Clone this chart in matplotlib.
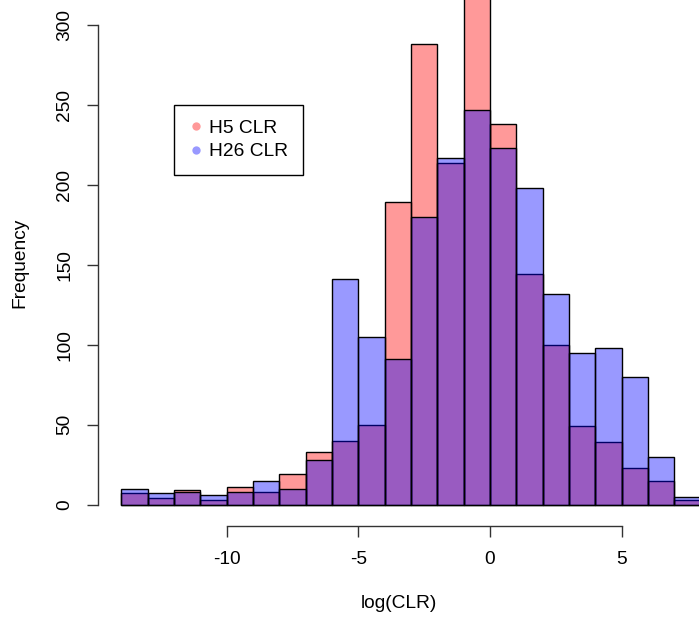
import matplotlib
matplotlib.use("Agg")
import matplotlib.pyplot as plt
import numpy as np
from matplotlib.lines import Line2D

plt.rcParams["font.family"] = ["Liberation Sans", "DejaVu Sans"]
plt.rcParams["font.size"] = 13.8
plt.rcParams["axes.unicode_minus"] = False  # R prints a plain hyphen

# histogram breaks (unit-wide bins) and counts
BREAKS = np.arange(-14, 9)
H5_COUNTS = [7, 4, 9, 3, 11, 8, 19, 33, 40, 50, 189, 288, 214, 328,
             238, 144, 100, 49, 39, 23, 15, 3]
H26_COUNTS = [10, 7, 8, 6, 8, 15, 10, 28, 141, 105, 91, 180, 217, 247,
              223, 198, 132, 95, 98, 80, 30, 5]
SERIES = ["H5 CLR", "H26 CLR"]
COLORS = [(1, 0, 0, 0.4), (0, 0, 1, 0.4)]
X_TICKS = [-10, -5, 0, 5]
Y_TICKS = [0, 50, 100, 150, 200, 250, 300]

W, H = 699, 620
fig = plt.figure(figsize=(W / 100, H / 100), dpi=100)

# plot region in pixels (the original R plot is cropped at top and right)
left_px, bottom_px = 98.2, 525.7
ax = fig.add_axes([left_px / W, 1 - bottom_px / H, 1 - left_px / W, bottom_px / H])
px_per_x, x0_px = 26.33, 490.0
px_per_y, y0_px = 1.598, 504.5
ax.set_xlim((left_px - x0_px) / px_per_x, (W - x0_px) / px_per_x)
ax.set_ylim(-(bottom_px - y0_px) / px_per_y, y0_px / px_per_y)

for counts, color in zip([H5_COUNTS, H26_COUNTS], COLORS):
    ax.bar(BREAKS[:-1], counts, width=1, align="edge", color=color,
           edgecolor="black", linewidth=1.0)

# R-style detached axes
for side in ["top", "right"]:
    ax.spines[side].set_visible(False)
ax.spines["left"].set_bounds(0, 300)
ax.spines["bottom"].set_bounds(-10, 5)
for side in ["left", "bottom"]:
    ax.spines[side].set_linewidth(1.0)
    ax.spines[side].set_color("#333333")
ax.set_xticks(X_TICKS)
ax.set_yticks(Y_TICKS)
ax.tick_params(length=8, width=1.0, color="#333333", pad=10)
plt.setp(ax.get_yticklabels(), rotation=90, va="center")

ax.set_xlabel("log(CLR)", labelpad=20)
ax.set_ylabel("Frequency", labelpad=20)

handles = [Line2D([], [], linestyle="none", marker="o", markersize=6,
                  markerfacecolor=c, markeredgecolor="none") for c in COLORS]
leg = ax.legend(handles, SERIES, loc="upper left",
                bbox_to_anchor=(174 / W, 1 - 105 / H), bbox_transform=fig.transFigure,
                frameon=True, fancybox=False, edgecolor="black", framealpha=1,
                borderaxespad=0, handlelength=0.8, handletextpad=0.3,
                labelspacing=0.32, borderpad=0.75)
leg.get_frame().set_linewidth(1.0)

fig.savefig("out.png", dpi=100)
